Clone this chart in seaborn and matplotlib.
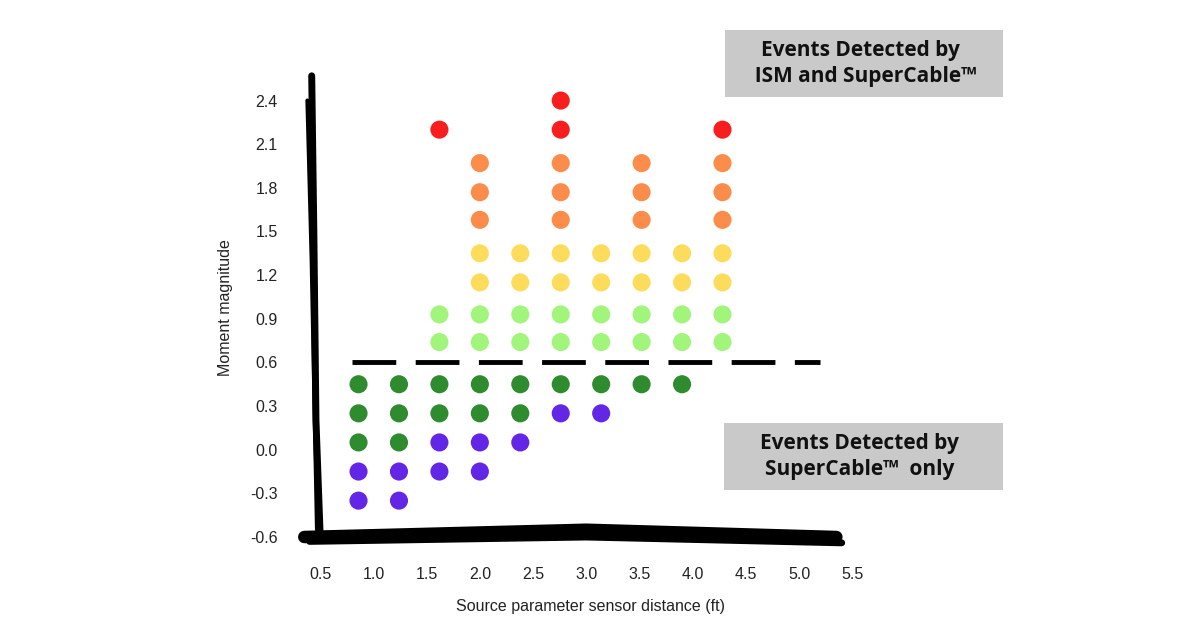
import matplotlib
matplotlib.use("Agg")
import matplotlib.pyplot as plt
from matplotlib.patches import Rectangle
import seaborn as sns
import pandas as pd

red_x = [1.62, 2.76, 2.76, 4.28]
red_y = [2.2, 2.4, 2.2, 2.2]
orange_x = [2.0]*3 + [2.76]*3 + [3.52]*3 + [4.28]*3
orange_y = [1.97, 1.77, 1.58]*4
yellow_x = [2.0, 2.0, 2.38, 2.38, 2.76, 2.76, 3.14, 3.14, 3.52, 3.52, 3.9, 3.9, 4.28, 4.28]
yellow_y = [1.35, 1.15]*7
lgreen_x = [1.62]*2 + [2.0]*2 + [2.38]*2 + [2.76]*2 + [3.14]*2 + [3.52]*2 + [3.9]*2 + [4.28]*2
lgreen_y = [0.93, 0.74]*8
green_x = [0.86]*3 + [1.24]*3 + [1.62]*2 + [2.0]*2 + [2.38]*2 + [2.76, 3.14, 3.52, 3.9]
green_y = [0.45, 0.25, 0.05]*2 + [0.45, 0.25]*3 + [0.45]*4
purple_x = [0.86]*2 + [1.24]*2 + [1.62]*2 + [2.0]*2 + [2.38, 2.76, 3.14]
purple_y = [-0.15, -0.35]*2 + [0.05, -0.15]*2 + [0.05, 0.25, 0.25]

groups = [("red", red_x, red_y, "#f81e1e"), ("orange", orange_x, orange_y, "#fb8c4a"),
          ("yellow", yellow_x, yellow_y, "#fddc5c"), ("lgreen", lgreen_x, lgreen_y, "#a0f57a"),
          ("green", green_x, green_y, "#2e8b2e"), ("purple", purple_x, purple_y, "#6426e6")]
df = pd.concat([pd.DataFrame({"x": gx, "y": gy, "g": n}) for n, gx, gy, c in groups])
pal = {n: c for n, gx, gy, c in groups}

xticks = [0.5, 1.0, 1.5, 2.0, 2.5, 3.0, 3.5, 4.0, 4.5, 5.0, 5.5]
yticks = [-0.6, -0.3, 0.0, 0.3, 0.6, 0.9, 1.2, 1.5, 1.8, 2.1, 2.4]

sns.set_theme(style="white")
plt.rcParams['font.family'] = ['Liberation Sans', 'DejaVu Sans']
fig = plt.figure(figsize=(12, 6.28), dpi=100)
ax = fig.add_axes([300/1200, 1-545/628, 580/1200, 475/628])
sns.scatterplot(data=df, x="x", y="y", hue="g", palette=pal, s=170, edgecolor="none", legend=False, ax=ax)
ax.set_xlim(0.31, 5.76)
ax.set_ylim(-0.655, 2.61)
for s in ax.spines.values():
    s.set_visible(False)
ax.set_xticks(xticks)
ax.set_xticklabels([f"{v:.1f}" for v in xticks], fontsize=11.5, color="#222")
ax.set_yticks(yticks)
ax.set_yticklabels([f"{v:.1f}" for v in yticks], fontsize=11.5, color="#222")
ax.tick_params(axis="y", length=0, pad=16)
ax.tick_params(axis="x", length=0, pad=16)
ax.set_xlabel("Source parameter sensor distance (ft)", fontsize=11.5, color="#222", labelpad=12)
ax.set_ylabel("Moment magnitude", fontsize=11.5, color="#222", labelpad=12)

# hand-drawn style axes
ax.plot([0.42, 0.44, 0.46, 0.5], [2.57, 1.5, 0.2, -0.6], color="black", lw=5, solid_capstyle="round", clip_on=False)
ax.plot([0.38, 0.42, 0.47], [2.4, 1.3, -0.55], color="black", lw=3, clip_on=False)
ax.plot([0.35, 3.0, 5.35], [-0.6, -0.55, -0.6], color="black", lw=9, solid_capstyle="round", clip_on=False)
ax.plot([0.4, 3.0, 5.4], [-0.63, -0.6, -0.64], color="black", lw=5, clip_on=False)
ax.plot([0.8, 5.2], [0.6, 0.6], color="black", lw=3.5, dashes=(9, 4), clip_on=False)

for (x0, y0, x1, y1), txt in [((725, 30, 1003, 97), "Events Detected by\n  ISM and SuperCable™"),
                               ((724, 423, 1003, 490), "Events Detected by\nSuperCable™  only")]:
    fig.patches.append(Rectangle((x0/1200, 1-y1/628), (x1-x0)/1200, (y1-y0)/628,
                                 transform=fig.transFigure, fc="#c9c9c9", ec="none"))
    fig.text((x0+x1)/2/1200 - 0.003, 1-(y0+y1)/2/628, txt, ha="center", va="center",
             fontsize=15, fontweight="bold", color="#111", family="Open Sans", linespacing=1.35)
fig.savefig("out.png", dpi=100)
